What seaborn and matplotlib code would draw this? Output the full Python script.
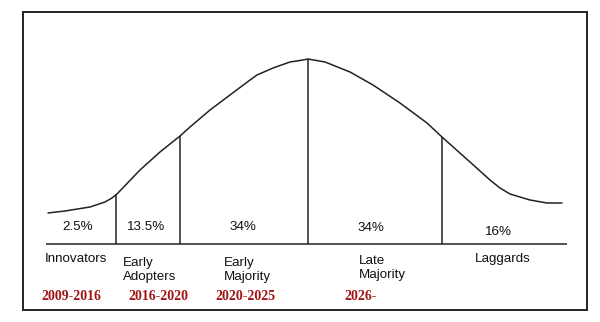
import matplotlib
matplotlib.use("Agg")
import matplotlib.pyplot as plt
import seaborn as sns
import pandas as pd
from matplotlib.patches import Rectangle

curve_x = [48, 65, 90, 105, 112, 117, 140, 160, 180, 190, 210, 230, 250, 257,
           273, 290, 303, 308, 325, 350, 373, 400, 427, 442, 470, 490, 500, 510,
           530, 547, 562]
curve_y = [213, 211, 207, 202, 198, 194, 170, 152, 136, 127, 110, 95, 80, 75,
           68, 62, 60, 59, 62, 72, 85, 103, 123, 137, 162, 180, 188, 194,
           200, 203, 203]

# Segment dividers
divider_x = [116, 180, 308, 442]
divider_top = [194, 136, 59, 137]
baseline_y = 244
baseline_x = [46, 567]

# Segment labels
shares = ["2.5%", "13.5%", "34%", "34%", "16%"]
share_x = [78, 146, 243, 371, 498]
share_y = [227, 227, 227, 228, 232]

categories = ["Innovators", "Early\nAdopters", "Early\nMajority", "Late\nMajority", "Laggards"]
years = ["2009-2016", "2016-2020", "2020-2025", "2026-"]
year_x = [71, 158, 245, 361]

sns.set_style("white")
plt.rcParams["font.family"] = ["Liberation Sans", "DejaVu Sans"]

fig = plt.figure(figsize=(6.0, 3.22), dpi=100)
ax = fig.add_axes([0, 0, 1, 1])

ink = "#222222"

# Curve
df = pd.DataFrame({"x": curve_x, "y": curve_y})
sns.lineplot(data=df, x="x", y="y", sort=False, color=ink, linewidth=1.1, ax=ax)
ax.set_xlim(0, 600)
ax.set_ylim(322, 0)
ax.axis("off")

# Frame
ax.add_patch(Rectangle((23, 12), 564, 298, fill=False, edgecolor=ink, linewidth=1.4))

# Baseline and dividers
ax.hlines(baseline_y, baseline_x[0], baseline_x[1], color=ink, linewidth=1.1)
ax.vlines(divider_x, divider_top, baseline_y, color=ink, linewidth=1.1)

fs = 9.6
for s, x, y in zip(shares, share_x, share_y):
    ax.text(x, y, s, ha="center", va="center", fontsize=fs, color="#111111")

# Category labels
cat_pos = [(45, 259), (123, 270), (224, 270), (359, 268), (475, 259)]
for c, (x, y) in zip(categories, cat_pos):
    ax.text(x, y, c, ha="left", va="center", fontsize=fs, color="#111111", linespacing=1.25)

for yr, x in zip(years, year_x):
    ax.text(x, 297, yr, ha="center", va="center", fontsize=10, color="#a01414",
            fontweight="bold", family=["Liberation Serif", "DejaVu Serif"])

fig.savefig("out.png", dpi=100)
